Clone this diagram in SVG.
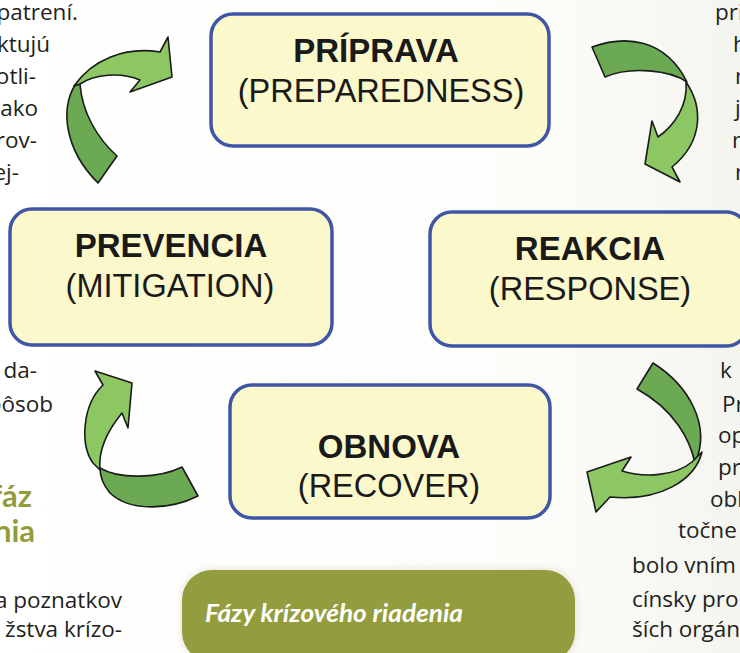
<svg xmlns="http://www.w3.org/2000/svg" width="740" height="653" viewBox="0 0 740 653">
<defs>
<linearGradient id="bg" x1="0" y1="0" x2="1" y2="0">
<stop offset="0" stop-color="#ffffff"/>
<stop offset="0.65" stop-color="#fdfdfb"/>
<stop offset="1" stop-color="#f5f5f0"/>
</linearGradient>
<filter id="glow" x="-10%" y="-20%" width="120%" height="140%">
<feGaussianBlur in="SourceAlpha" stdDeviation="4"/>
<feColorMatrix values="0 0 0 0 0.55 0 0 0 0 0.58 0 0 0 0 0.35 0 0 0 0.55 0"/>
<feMerge><feMergeNode/><feMergeNode in="SourceGraphic"/></feMerge>
</filter>
</defs>
<style>
.box{fill:#FBF8CB;stroke:#3F55A6;stroke-width:3.5}
.t1{font-family:"Liberation Sans",Arial,sans-serif;font-weight:bold;font-size:33px;fill:#1a1a1a;text-anchor:middle}
.t2{font-family:"Liberation Sans",Arial,sans-serif;font-size:32.5px;fill:#1a1a1a;text-anchor:middle}
.p{font-family:"Open Sans",sans-serif;font-size:22.5px;fill:#231F20}
.pe{text-anchor:end}
.h{font-family:Lato,"Open Sans",sans-serif;font-weight:bold;font-size:31px;fill:#939C3C;text-anchor:end}
.lt{fill:#8CC763;stroke:#1a1a1a;stroke-width:1.6;stroke-linejoin:round}
.dk{fill:#6BAA52;stroke:#1a1a1a;stroke-width:1.6;stroke-linejoin:round}
.cap{font-family:Lato,"Open Sans",sans-serif;font-weight:bold;font-style:italic;font-size:25px;fill:#ffffff}
</style>
<rect x="0" y="0" width="740" height="653" fill="url(#bg)"/>

<g id="background-text">
<text class="p pe" x="78" y="20">patrení.</text>
<text class="p pe" x="50" y="52">ktujú</text>
<text class="p pe" x="36" y="84">otli-</text>
<text class="p pe" x="38" y="116">ako</text>
<text class="p pe" x="37" y="148">rov-</text>
<text class="p pe" x="19" y="180">ej-</text>
<text class="p pe" x="37" y="378">da-</text>
<text class="p pe" x="53" y="412">spôsob</text>
<text class="h" x="32" y="507">fáz</text>
<text class="h" x="35" y="542">nia</text>
<text class="p pe" x="122" y="608">a poznatkov</text>
<text class="p pe" x="122" y="637">žstva krízo-</text>
<text class="p" x="715" y="20">pri</text>
<text class="p" x="733" y="52">h</text>
<text class="p" x="735" y="84">n</text>
<text class="p" x="735" y="116">j</text>
<text class="p" x="732" y="148">n</text>
<text class="p" x="735" y="180">n</text>
<text class="p" x="720" y="378">k</text>
<text class="p" x="722" y="412">Pr</text>
<text class="p" x="718" y="443">op</text>
<text class="p" x="718" y="475">pr</text>
<text class="p" x="710" y="507">obl</text>
<text class="p" x="678" y="538">točne</text>
<text class="p" x="632" y="573">bolo vním</text>
<text class="p" x="632" y="607">cínsky pro</text>
<text class="p" x="632" y="637">ších orgán</text>
</g>

<g id="connectors">
<g id="arrow-prevencia-pripava">
<path class="dk" d="M75,85 C60,110 65,150 98,183 L117,156 C97,138 82,112 80,84 Z"/>
<path class="lt" d="M74,86 C92,60 125,46 160,52 L168,37 L172,77 L130,92 L140,80 C120,72 95,74 80,84 Z"/>
</g>
<g id="arrow-pripava-reakcia">
<path class="dk" d="M592,47 C625,35 665,38 687,82 C670,70 630,66 605,77 Z"/>
<path class="lt" d="M686,82 C702,105 705,140 672,167 L680,182 L645,164 L652,121 L658,137 C675,125 688,105 686,82 Z"/>
</g>
<g id="arrow-reakcia-obnova">
<path class="dk" d="M653,363 C688,385 712,425 695,463 C690,440 675,410 637,389 Z"/>
<path class="lt" d="M702,452 C695,480 660,502 610,497 L596,512 L587,472 L631,457 L622,471 C645,478 675,476 692,462 Z"/>
</g>
<g id="arrow-obnova-prevencia">
<path class="dk" d="M100,468 C120,480 160,478 182,467 L198,496 C170,510 130,512 110,493 C104,486 100,478 100,468 Z"/>
<path class="lt" d="M95,371 L132,383 L128,428 L122,413 C108,430 98,450 100,470 L93,463 C80,445 82,405 103,385 Z"/>
</g>
</g>

<g id="node-pripava">
<rect class="box" x="211" y="14" width="338" height="132" rx="22"/>
<text class="t1" x="376" y="62">PRÍPRAVA</text>
<text class="t2" x="381" y="102">(PREPAREDNESS)</text>
</g>
<g id="node-prevencia">
<rect class="box" x="10" y="209" width="322" height="136" rx="22"/>
<text class="t1" x="171" y="257">PREVENCIA</text>
<text class="t2" x="170" y="297">(MITIGATION)</text>
</g>
<g id="node-reakcia">
<rect class="box" x="430" y="212" width="318" height="134" rx="22"/>
<text class="t1" x="590" y="260">REAKCIA</text>
<text class="t2" x="590" y="300">(RESPONSE)</text>
</g>
<g id="node-obnova">
<rect class="box" x="230" y="385" width="320" height="133" rx="22"/>
<text class="t1" x="389" y="458">OBNOVA</text>
<text class="t2" x="389" y="497">(RECOVER)</text>
</g>
<g id="caption">
<rect x="182" y="570" width="393" height="92" rx="30" fill="#949D3D" filter="url(#glow)"/>
<text class="cap" x="205" y="622" textLength="258" lengthAdjust="spacingAndGlyphs">Fázy krízového riadenia</text>
</g>
</svg>
